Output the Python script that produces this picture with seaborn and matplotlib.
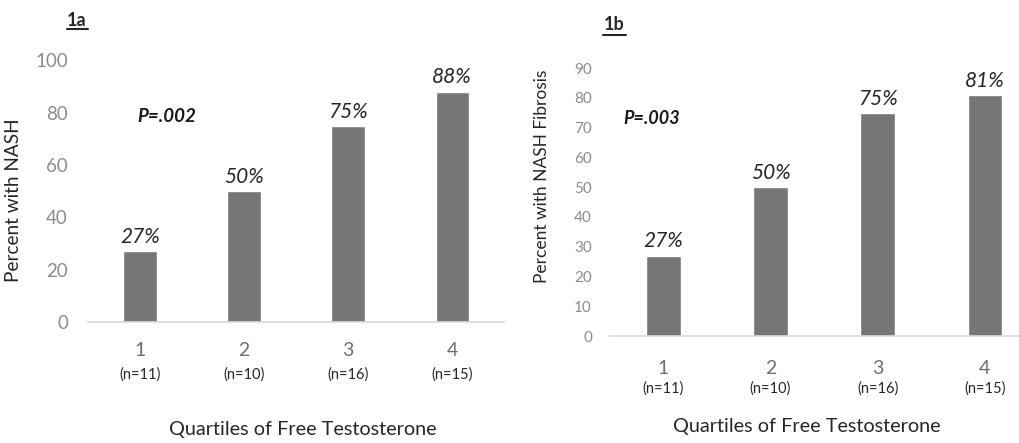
import matplotlib
matplotlib.use("Agg")
import matplotlib.pyplot as plt
import seaborn as sns
import pandas as pd

# data
quartiles = ["1", "2", "3", "4"]
n_labels = ["(n=11)", "(n=10)", "(n=16)", "(n=15)"]
pct_nash = [27, 50, 75, 88]
pct_fibrosis = [27, 50, 75, 81]

sns.set_theme(style="white")
plt.rcParams["font.family"] = ["Lato", "DejaVu Sans"]

bar_color = "#767676"
tick_gray = "#8c8c8c"

fig = plt.figure(figsize=(10.2, 4.43), dpi=100)
ax1 = fig.add_axes([0.0863, 0.273, 0.408, 0.591])
ax2 = fig.add_axes([0.598, 0.2415, 0.402, 0.605])

# ax, values, ylabel, ymax, step, ytick size, ytick pad, ylabel size, xlim, xtick pad, n y
panels = [
    (ax1, pct_nash, "Percent with NASH", 100, 20, 13.5, 14.5, 13.7, (-0.5, 3.5), 14, -0.2),
    (ax2, pct_fibrosis, "Percent with NASH Fibrosis", 90, 10, 11, 13, 12.5, (-0.5, 3.33), 17, -0.195),
]

for ax, vals, ylab, ymax, step, tsize, tpad, ysize, xl, xpad, ny in panels:
    df = pd.DataFrame({"q": quartiles, "v": vals})
    sns.barplot(data=df, x="q", y="v", color=bar_color, width=0.32,
                saturation=1, ax=ax)
    ax.set_ylim(0, ymax)
    ax.set_xlim(*xl)
    ax.set_yticks(range(0, ymax + 1, step))
    ax.tick_params(axis="y", labelsize=tsize, labelcolor=tick_gray, length=0, pad=tpad)
    ax.tick_params(axis="x", labelsize=14, labelcolor="#6e6e6e", length=0, pad=xpad)
    for s in ["top", "right", "left"]:
        ax.spines[s].set_visible(False)
    ax.spines["bottom"].set_color("#d9d9d9")
    ax.spines["bottom"].set_linewidth(1.2)

    # value labels over bars
    for i, v in enumerate(vals):
        ax.annotate(f"{v}%", (i, v), xytext=(0, 3), textcoords="offset points",
                    ha="center", va="bottom", fontsize=15, style="italic",
                    color="#262626")
    # sample sizes under the tick numbers
    for i, n in enumerate(n_labels):
        ax.text(i, ny, n, transform=ax.get_xaxis_transform(),
                ha="center", va="center", fontsize=10.5, color="#262626")

    ax.set_ylabel(ylab, fontsize=ysize, color="#262626")
    ax.set_xlabel("Quartiles of Free Testosterone", fontsize=14.3, color="#262626")

ax1.yaxis.set_label_coords(-0.159, 0.466)
ax2.yaxis.set_label_coords(-0.146, 0.597)
ax1.xaxis.set_label_coords(0.517, -0.378)
ax2.xaxis.set_label_coords(0.48, -0.306)

fig.text(77 / 1020, 1 - 20 / 443, "1a", fontsize=13, fontweight="bold",
         ha="center", va="center", color="#262626")
fig.text(614 / 1020, 1 - 25 / 443, "1b", fontsize=13, fontweight="bold",
         ha="center", va="center", color="#262626")
fig.add_artist(plt.Line2D([67 / 1020, 88 / 1020], [1 - 29 / 443] * 2, color="#262626", lw=1.5))
fig.add_artist(plt.Line2D([603 / 1020, 626 / 1020], [1 - 35 / 443] * 2, color="#262626", lw=1.5))

fig.text(167 / 1020, 1 - 116 / 443, "P=.002", fontsize=13.5, fontweight="bold",
         style="italic", ha="center", va="center", color="#1a1a1a")
fig.text(652 / 1020, 1 - 118 / 443, "P=.003", fontsize=13, fontweight="bold",
         style="italic", ha="center", va="center", color="#1a1a1a")

fig.savefig("out.png", dpi=100)
